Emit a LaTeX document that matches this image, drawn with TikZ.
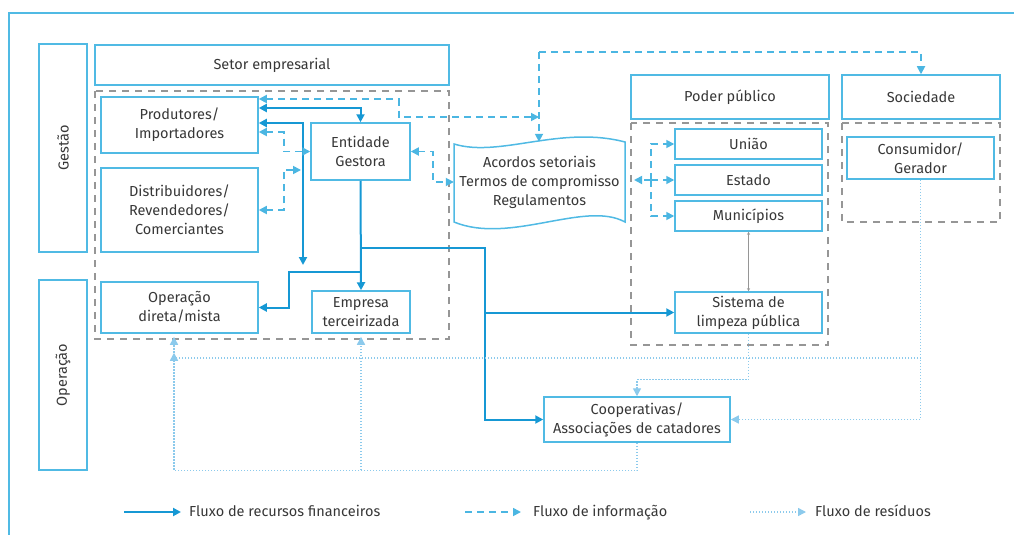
\documentclass[tikz,border=0pt]{standalone}
\usepackage{fontspec}
\setmainfont{Fira Sans}
\usepackage{tikz}
\usetikzlibrary{arrows.meta, positioning}
\definecolor{boxc}{RGB}{80,186,228}
\definecolor{finc}{RGB}{22,152,212}
\definecolor{infoc}{RGB}{75,182,226}
\definecolor{resc}{RGB}{140,202,236}
\definecolor{gry}{RGB}{150,150,150}
\definecolor{txt}{RGB}{55,55,55}

\begin{document}
\begin{tikzpicture}[x=1pt, y=-1pt,
  every node/.style={font=\fontsize{14.5}{19}\selectfont, text=txt, align=center, inner sep=0pt},
  box/.style={draw=boxc, line width=1.5pt},
  reg/.style={draw=gry, line width=1.2pt, dash pattern=on 7pt off 6pt},
  fin/.style={draw=finc, line width=2pt},
  info/.style={draw=infoc, line width=1.7pt, dash pattern=on 7pt off 5pt},
  res/.style={draw=resc, line width=1.4pt, dash pattern=on 1.3pt off 1.7pt},
  gline/.style={draw=gry, line width=0.8pt, {Stealth[length=3pt,width=3pt]}-{Stealth[length=3pt,width=3pt]}},
  leg/.style={anchor=west, text height=11pt, text depth=3pt},
  >={Triangle[length=8pt,width=8pt]}]
\useasboundingbox (0,0) rectangle (1014,535);
\draw[draw=boxc, line width=2pt] (9,535) -- (9,13) -- (1014,13);
%
\node[box, minimum width=48pt, minimum height=208pt] (gest) at (63,148) {\rotatebox{90}{Gestão}};
\node[box, minimum width=48pt, minimum height=190pt] (oper) at (63,375) {\rotatebox{90}{Operação}};
\node[box, minimum width=354pt, minimum height=40pt] (setor) at (272,65) {Setor empresarial};
\node[box, minimum width=198pt, minimum height=44pt] (poder) at (730,97) {Poder público};
\node[box, minimum width=158pt, minimum height=44pt] (soc) at (921,97) {Sociedade};
%
\draw[reg] (95,91) rectangle (449,339);
\draw[reg] (631,123) rectangle (828,345);
\draw[reg] (842,123) rectangle (1000,222);
%
\node[box, minimum width=157pt, minimum height=56pt] (prod) at (179.5,125) {Produtores/\\Importadores};
\node[box, minimum width=157pt, minimum height=84pt] (dist) at (179.5,210) {Distribuidores/\\Revendedores/\\Comerciantes};
\node[box, minimum width=99pt, minimum height=57pt] (ent) at (360.5,151.5) {Entidade\\Gestora};
\node[box, minimum width=157pt, minimum height=51pt] (opd) at (179.5,307.5) {Operação\\direta/mista};
\node[box, minimum width=98pt, minimum height=42pt] (emp) at (361,312) {Empresa\\terceirizada};
\node[minimum width=171pt, minimum height=80pt] (acord) at (539.5,182) {Acordos setoriais\\Termos de compromisso\\Regulamentos};
\draw[box] (454,144) .. controls (500,158) and (560,125) .. (625,142) -- (625,222)
  .. controls (585,200) and (510,245) .. (454,222) -- cycle;
\node[box, minimum width=147pt, minimum height=30pt] (uni) at (748.5,144) {União};
\node[box, minimum width=147pt, minimum height=30pt] (est) at (748.5,180) {Estado};
\node[box, minimum width=147pt, minimum height=30pt] (mun) at (748.5,216) {Municípios};
\node[box, minimum width=147pt, minimum height=41pt] (sist) at (748.5,312.5) {Sistema de\\limpeza pública};
\node[box, minimum width=147pt, minimum height=42pt] (cons) at (920.5,158) {Consumidor/\\Gerador};
\node[box, minimum width=186pt, minimum height=45pt] (coop) at (637,419.5) {Cooperativas/\\Associações de catadores};
%
\coordinate (k1) at (303,265);
\coordinate (k2) at (361,272);
\coordinate (k3) at (361,248);
\coordinate (k4) at (485,312.5);
\coordinate (k5) at (539,117);
\coordinate (k6) at (539,52);
\coordinate (k7) at (301,170);
\coordinate (k8) at (651,180);
\coordinate (k9) at (921,358);
\coordinate (k10) at (361,470);
% recursos financeiros
\draw[fin,<->] ([yshift=17pt]prod.east) -| (ent.north);
\draw[fin,<->] ([yshift=2pt]prod.east) -| (k1);
\draw[fin,->] (ent.south) -- (emp.north);
\draw[fin,->] (k2) -- ++(-72,0) |- (opd.east);
\draw[fin,->] (k3) -- ++(124,0) |- (coop.west);
\draw[fin,->] (k4) -- (sist.west);
% informacao
\draw[info,<->] ([yshift=26pt]prod.east) -- ++(140,0) |- (k5);
\draw[info,->] (k6) -- (k6 |- acord.north);
\draw[info,->] (k6) -| (soc.north);
\draw[info,<->] ([yshift=-7pt]prod.east) -- ++(25,0) |- (ent.west);
\draw[info,<->] (dist.east) -- ++(25,0) |- (k7);
\draw[info,<->] (ent.east) -- ++(22,0) |- (acord.west);
\draw[info,->] (k8) -- ++(-17,0);
\draw[info,->] (k8) |- (uni.west);
\draw[info,->] (k8) -- (est.west);
\draw[info,->] (k8) |- (mun.west);
\draw[gline] (mun.south) -- (sist.north);
% residuos
\draw[res,->] (cons.south) |- (coop.east);
\draw[res,->] (k9) -| ([xshift=-5.5pt,yshift=-19pt]opd.south);
\draw[res,->] (coop.south) -- ++(0,28) -| ([xshift=-5.5pt,yshift=-3pt]opd.south);
\draw[res,->] (k10) -- ([yshift=-3pt]emp.south);
\draw[res,->] (sist.south) -- ++(0,46) -| (coop.north);
% legenda
\node[leg] (l1) at (189,512) {Fluxo de recursos financeiros};
\node[leg] (l2) at (533,512) {Fluxo de informação};
\node[leg] (l3) at (815,512) {Fluxo de resíduos};
\draw[fin,->] ([xshift=-65pt]l1.west) -- ([xshift=-8pt]l1.west);
\draw[info,->] ([xshift=-68pt]l2.west) -- ([xshift=-12pt]l2.west);
\draw[res,->] ([xshift=-65pt]l3.west) -- ([xshift=-9pt]l3.west);
\end{tikzpicture}
\end{document}
